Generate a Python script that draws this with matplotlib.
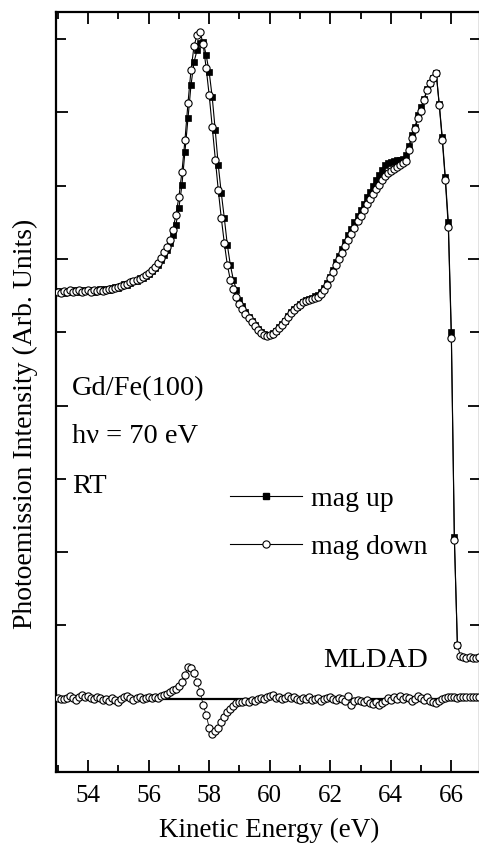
import numpy as np
import matplotlib
matplotlib.use("Agg")
import matplotlib.pyplot as plt
from matplotlib.ticker import MultipleLocator, FixedLocator
from matplotlib.lines import Line2D

plt.rcParams['font.family'] = ['Liberation Serif', 'DejaVu Serif']

# Gd 4f photoemission, Gd/Fe(100), hv = 70 eV, RT (arb. units)
energy = np.round(np.arange(53.0, 66.95, 0.1), 1)

mag_down = [
    480, 479, 481, 480, 482, 480, 481, 482, 480, 481,
    482, 480, 482, 481, 482, 481, 482, 483, 483, 484,
    485, 486, 487, 488, 490, 491, 492, 493, 495, 497,
    499, 502, 505, 509, 514, 520, 525, 532, 542, 557,
    575, 600, 632, 669, 702, 726, 737, 740, 728, 704,
    677, 645, 612, 582, 554, 529, 507, 492, 483, 475,
    468, 463, 458, 454, 450, 446, 442, 439, 437, 436,
    437, 438, 441, 444, 447, 451, 455, 459, 462, 465,
    467, 470, 471, 472, 473, 474, 475, 478, 482, 487,
    494, 500, 507, 513, 519, 526, 532, 538, 544, 551,
    556, 562, 568, 573, 578, 583, 587, 592, 596, 599,
    601, 603, 605, 607, 609, 611, 622, 634, 643, 654,
    661, 672, 682, 689, 694, 699, 667, 632, 592, 545,
    434, 232, 127, 116, 115, 114, 115, 114, 114, 115]

mag_up = [
    481, 480, 479, 481, 480, 482, 481, 480, 482, 481,
    481, 482, 480, 482, 483, 481, 483, 482, 484, 485,
    484, 486, 488, 487, 489, 491, 491, 494, 494, 496,
    498, 501, 504, 507, 512, 517, 522, 529, 537, 547,
    564, 587, 620, 654, 687, 710, 722, 729, 730, 717,
    700, 675, 642, 607, 579, 554, 527, 507, 492, 482,
    472, 466, 460, 455, 451, 447, 443, 440, 438, 437,
    437, 439, 441, 445, 448, 451, 456, 460, 463, 465,
    468, 470, 472, 473, 474, 476, 477, 480, 484, 489,
    495, 502, 510, 516, 523, 530, 537, 543, 550, 556,
    562, 568, 575, 580, 586, 592, 597, 602, 607, 609,
    610, 611, 612, 612, 613, 617, 626, 637, 645, 657,
    665, 673, 683, 689, 694, 699, 668, 635, 595, 550,
    440, 235, 127]

mldad = [
    1, 0, 0, 1, 3, 1, -1, 2, 4, 2,
    3, 1, 0, 2, 1, -1, 0, -2, 1, -1,
    -3, 0, 2, 3, 1, -1, 1, 2, 0, 1,
    2, 1, 2, 1, 3, 4, 5, 7, 9, 10,
    13, 17, 24, 32, 31, 26, 17, 7, -6, -16,
    -29, -35, -32, -29, -23, -18, -13, -10, -7, -4,
    -3, -3, -2, -3, -1, -2, 0, 1, 0, 2,
    3, 4, 1, 2, 0, 1, 3, 1, 2, 0,
    -1, 1, 0, 2, -1, 0, 1, -2, 0, 1,
    2, 0, -1, 1, 0, -2, 3, -6, -2, -1,
    -2, -3, -1, -4, -5, -3, -6, -4, -2, 1,
    -1, 2, 0, 3, 0, 2, 1, -2, 0, 3,
    1, -1, 2, -2, -3, -4, -2, 0, 1, 2,
    2, 2, 1, 2, 2, 2, 2, 2, 2, 2]

mldad_offset = 73.3
mldad_zero_start = 56.5
ytick_step = 73.3

fig = plt.figure(figsize=(4.79, 8.61), dpi=100)
ax = fig.add_axes([56 / 479, 89 / 861, 423.8 / 479, 760 / 861])

e_up = energy[:len(mag_up)]
ax.plot(e_up, mag_up, '-', color='black', lw=0.8, marker='s', ms=4.4,
        mfc='black', mec='black', mew=0.5, zorder=3)
ax.plot(energy, mag_down, '-', color='black', lw=0.8, marker='o', ms=5.2,
        mfc='white', mec='black', mew=0.8, zorder=4)

# MLDAD difference, shifted to its own zero line
ax.hlines(mldad_offset, mldad_zero_start, 67.5, color='black', lw=1.6, zorder=2)
ax.plot(energy, np.array(mldad) + mldad_offset, '-', color='black', lw=0.6,
        marker='o', ms=5.2, mfc='white', mec='black', mew=0.8, zorder=4)

ax.set_xlim(52.94, 66.94)
ax.set_ylim(0, 760)
ax.xaxis.set_major_locator(MultipleLocator(2))
ax.xaxis.set_minor_locator(MultipleLocator(1))
ax.yaxis.set_major_locator(FixedLocator([ytick_step * k for k in range(1, 11, 2)]))
ax.yaxis.set_minor_locator(FixedLocator([ytick_step * k for k in range(2, 11, 2)]))
ax.tick_params(which='both', direction='in', top=True, right=True, width=1.3)
ax.tick_params(which='major', length=8.5)
ax.tick_params(which='minor', length=5)
ax.tick_params(axis='y', which='minor', length=7)
ax.tick_params(axis='x', labelsize=18, pad=9)
ax.tick_params(axis='y', labelleft=False)
for side in ['left', 'top', 'bottom', 'right']:
    ax.spines[side].set_linewidth(1.6)

fig.text(269 / 479, 31 / 861, 'Kinetic Energy (eV)', ha='center', va='center',
         fontsize=19.5)
fig.text(25 / 479, 437 / 861, 'Photoemission Intensity (Arb. Units)',
         rotation=90, ha='center', va='center', fontsize=20)

ax.text(0.038, 0.496, 'Gd/Fe(100)', transform=ax.transAxes, fontsize=20.5,
        va='baseline')
ax.text(0.038, 0.433, 'h\u03bd = 70 eV', transform=ax.transAxes, fontsize=20.5,
        va='baseline')
ax.text(0.038, 0.367, 'RT', transform=ax.transAxes, fontsize=20.5,
        va='baseline')
ax.text(0.630, 0.138, 'MLDAD', transform=ax.transAxes, fontsize=20.5,
        va='baseline')

handles = [
    Line2D([], [], color='black', lw=0.8, marker='s', ms=4.4, mfc='black',
           mec='black'),
    Line2D([], [], color='black', lw=0.8, marker='o', ms=5.2, mfc='white',
           mec='black', mew=0.8),
]
ax.legend(handles, ['mag up', 'mag down'], loc='upper left',
          bbox_to_anchor=(0.411, 0.376), frameon=False, fontsize=20,
          handlelength=2.6, handletextpad=0.3, labelspacing=0.82,
          borderpad=0, borderaxespad=0, numpoints=1)

fig.savefig('out.png', dpi=100)
